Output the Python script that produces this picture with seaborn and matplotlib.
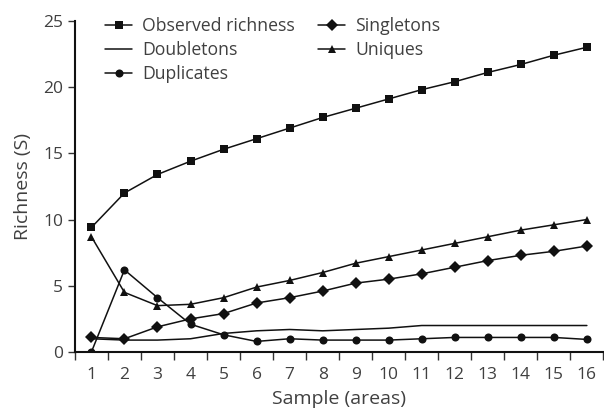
import matplotlib
matplotlib.use("Agg")
import matplotlib.pyplot as plt
import seaborn as sns
import pandas as pd
import numpy as np

samples = list(range(1, 17))
observed = [9.4, 12.0, 13.4, 14.4, 15.3, 16.1, 16.9, 17.7, 18.4, 19.1, 19.8, 20.4, 21.1, 21.7, 22.4, 23.0]
singletons = [1.1, 1.0, 1.9, 2.5, 2.9, 3.7, 4.1, 4.6, 5.2, 5.5, 5.9, 6.4, 6.9, 7.3, 7.6, 8.0]
doubletons = [1.0, 0.9, 0.9, 1.0, 1.4, 1.6, 1.7, 1.6, 1.7, 1.8, 2.0, 2.0, 2.0, 2.0, 2.0, 2.0]
uniques = [8.7, 4.5, 3.5, 3.6, 4.1, 4.9, 5.4, 6.0, 6.7, 7.2, 7.7, 8.2, 8.7, 9.2, 9.6, 10.0]
duplicates = [0.0, 6.2, 4.1, 2.1, 1.3, 0.8, 1.0, 0.9, 0.9, 0.9, 1.0, 1.1, 1.1, 1.1, 1.1, 0.95]
y_ticks = [0, 5, 10, 15, 20, 25]

sns.set_style("ticks")
plt.rcParams['font.family'] = ['Open Sans', 'DejaVu Sans']
txt = '#404040'

fig = plt.figure(figsize=(6.04, 4.12), dpi=100)
ax = fig.add_axes([0.124, 0.1456, 0.875, 0.804])

series = [
    ("Observed richness", observed, "s", 5.5),
    ("Doubletons", doubletons, None, 0),
    ("Duplicates", duplicates, "o", 5.8),
    ("Singletons", singletons, "D", 6.3),
    ("Uniques", uniques, "^", 6),
]
for name, vals, mk, ms in series:
    df = pd.DataFrame({"Sample": samples, "S": vals})
    sns.lineplot(data=df, x="Sample", y="S", ax=ax, color="#111111", lw=1.1,
                 marker=mk if mk else "", markersize=ms, markeredgewidth=0,
                 label=name)

ax.set_xlim(0.5, 16.5)
ax.set_ylim(0, 25)
ax.set_yticks(y_ticks)
ax.set_xticks(samples)
ax.set_xticks(np.arange(0.5, 17, 1), minor=True)
ax.tick_params(axis='x', which='major', length=0, pad=11, labelsize=12.5, labelcolor=txt)
ax.tick_params(axis='x', which='minor', length=6, width=1, direction='out', color='#333333')
ax.tick_params(axis='y', length=5, width=1, labelsize=12.5, labelcolor=txt, color='#333333')
for s in ['top', 'right']:
    ax.spines[s].set_visible(False)
for s in ['left', 'bottom']:
    ax.spines[s].set_linewidth(1.5)
    ax.spines[s].set_color('#111111')
ax.set_xlabel("Sample (areas)", fontsize=14, color=txt, labelpad=5)
ax.set_ylabel("Richness (S)", fontsize=14, color=txt, labelpad=8)

leg = ax.legend(ncol=2, loc='upper left', bbox_to_anchor=(0.057, 1.012), frameon=False,
                fontsize=12.7, handlelength=1.55, handletextpad=0.57, columnspacing=1.3,
                labelspacing=0.34, borderaxespad=0, borderpad=0)
for t in leg.get_texts():
    t.set_color(txt)

fig.savefig("out.png", dpi=100)
